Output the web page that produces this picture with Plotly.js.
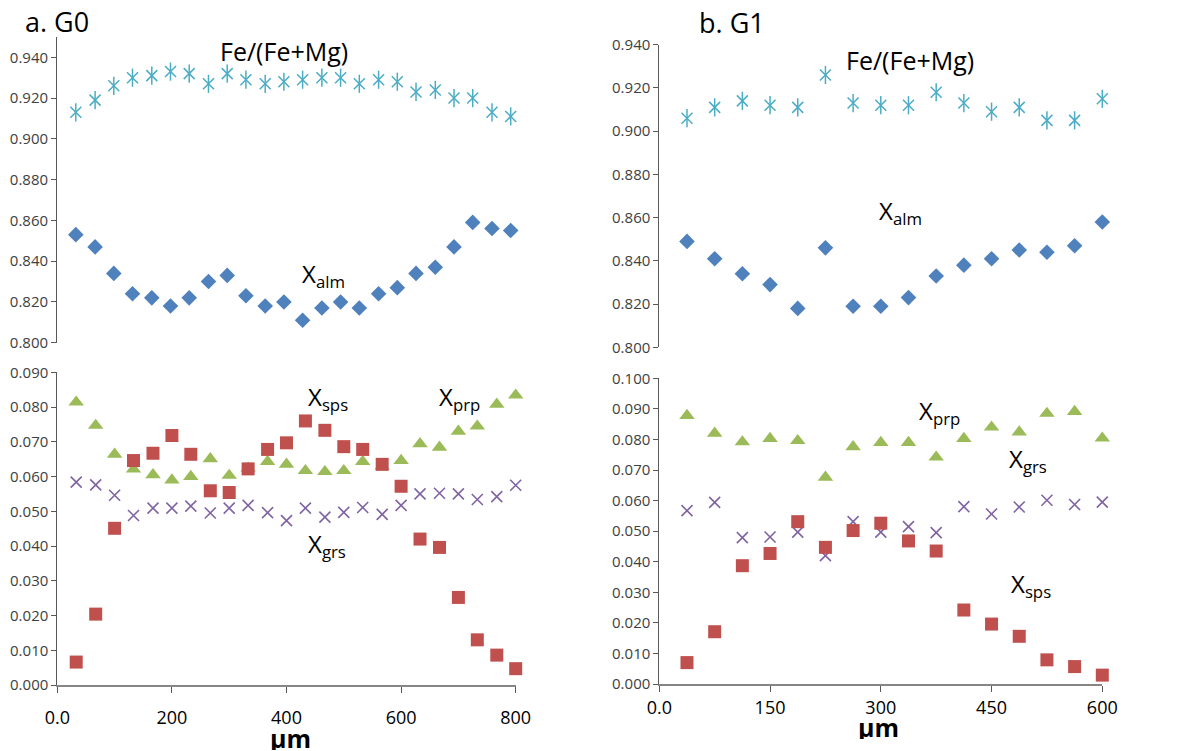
<!DOCTYPE html>
<html><head><meta charset="utf-8">
<script src="https://cdn.plot.ly/plotly-3.0.1.min.js"></script>
<style>html,body{margin:0;padding:0;background:#fff}#chart{width:1189px;height:751px}</style>
</head><body><div id="chart"></div>
<script>
// ---- G0 (left) ----
const g0Distance = [33, 67, 100, 133, 167, 200, 233, 267, 300, 333, 367, 400, 433, 467, 500, 533, 567, 600, 633, 667, 700, 733, 767, 800];
const g0FeMg = [0.913, 0.919, 0.926, 0.930, 0.931, 0.933, 0.932, 0.927, 0.932, 0.929, 0.927, 0.928, 0.929, 0.930, 0.930, 0.927, 0.929, 0.928, 0.923, 0.924, 0.920, 0.920, 0.913, 0.911];
const g0Alm = [0.853, 0.847, 0.834, 0.824, 0.822, 0.818, 0.822, 0.830, 0.833, 0.823, 0.818, 0.820, 0.811, 0.817, 0.820, 0.817, 0.824, 0.827, 0.834, 0.837, 0.847, 0.859, 0.856, 0.855];
const g0Sps = [0.0066, 0.0204, 0.0451, 0.0646, 0.0667, 0.0718, 0.0664, 0.0559, 0.0554, 0.0622, 0.0678, 0.0697, 0.0760, 0.0733, 0.0686, 0.0678, 0.0635, 0.0572, 0.0420, 0.0396, 0.0252, 0.0130, 0.0086, 0.0047];
const g0Prp = [0.0814, 0.0747, 0.0664, 0.0621, 0.0605, 0.0590, 0.0600, 0.0651, 0.0603, 0.0624, 0.0643, 0.0635, 0.0617, 0.0614, 0.0617, 0.0643, 0.0630, 0.0646, 0.0694, 0.0684, 0.0730, 0.0745, 0.0808, 0.0834];
const g0Grs = [0.0584, 0.0576, 0.0546, 0.0488, 0.0509, 0.0509, 0.0515, 0.0495, 0.0509, 0.0517, 0.0496, 0.0473, 0.0509, 0.0483, 0.0497, 0.0511, 0.0491, 0.0517, 0.0550, 0.0552, 0.0550, 0.0534, 0.0542, 0.0575];
// ---- G1 (right) ----
const g1Distance = [37.5, 75, 112.5, 150, 187.5, 225, 262.5, 300, 337.5, 375, 412.5, 450, 487.5, 525, 562.5, 600];
const g1FeMg = [0.906, 0.911, 0.914, 0.912, 0.911, 0.926, 0.913, 0.912, 0.912, 0.918, 0.913, 0.909, 0.911, 0.905, 0.905, 0.915];
const g1Alm = [0.849, 0.841, 0.834, 0.829, 0.818, 0.846, 0.819, 0.819, 0.823, 0.833, 0.838, 0.841, 0.845, 0.844, 0.847, 0.858];
const g1Prp = [0.0878, 0.0820, 0.0792, 0.0803, 0.0796, 0.0676, 0.0776, 0.0790, 0.0790, 0.0742, 0.0803, 0.0840, 0.0824, 0.0885, 0.0891, 0.0804];
const g1Grs = [0.0567, 0.0594, 0.0479, 0.0481, 0.0497, 0.0420, 0.0531, 0.0497, 0.0515, 0.0495, 0.0580, 0.0556, 0.0579, 0.0601, 0.0587, 0.0595];
const g1Sps = [0.0070, 0.0171, 0.0387, 0.0427, 0.0531, 0.0447, 0.0502, 0.0526, 0.0468, 0.0435, 0.0242, 0.0196, 0.0156, 0.0079, 0.0057, 0.0029];
// ---- tick labels ----
const g0XTicks = [0, 200, 400, 600, 800];
const g0XTickText = ['0.0', '200', '400', '600', '800'];
const g1XTicks = [0, 150, 300, 450, 600];
const g1XTickText = ['0.0', '150', '300', '450', '600'];
const topYTicks = [0.80, 0.82, 0.84, 0.86, 0.88, 0.90, 0.92, 0.94];
const g0LowYTicks = [0, 0.01, 0.02, 0.03, 0.04, 0.05, 0.06, 0.07, 0.08, 0.09];
const g1LowYTicks = [0, 0.01, 0.02, 0.03, 0.04, 0.05, 0.06, 0.07, 0.08, 0.09, 0.10];

const W = 1189, H = 751;
const fx = p => p / W;
const fy = p => 1 - p / H;
const FONT = 'Open Sans, sans-serif';

const C_STAR = '#4BACC6', C_ALM = '#4F81BD', C_SPS = '#C0504D', C_PRP = '#9BBB59', C_GRS = '#8064A2';

function star(x, y, xa, ya) {
  return [
    {x, y, xaxis: xa, yaxis: ya, type: 'scatter', mode: 'markers', cliponaxis: false,
     marker: {symbol: 'x-thin-open', size: 11, color: C_STAR, line: {color: C_STAR, width: 1.5}}},
    {x, y, xaxis: xa, yaxis: ya, type: 'scatter', mode: 'markers', cliponaxis: false,
     marker: {symbol: 'line-ns-open', size: 13, color: C_STAR, line: {color: C_STAR, width: 1.5}}}
  ];
}
function pts(x, y, xa, ya, symbol, color, size) {
  const m = {symbol, size, color};
  if (symbol.indexOf('thin') >= 0) m.line = {color, width: 1.6};
  else m.line = {width: 0};
  return {x, y, xaxis: xa, yaxis: ya, type: 'scatter', mode: 'markers', cliponaxis: false, marker: m};
}

const data = [
  ...star(g0Distance, g0FeMg, 'x', 'y'),
  pts(g0Distance, g0Alm, 'x', 'y', 'diamond', C_ALM, 12),
  pts(g0Distance, g0Grs, 'x2', 'y2', 'x-thin-open', C_GRS, 11),
  pts(g0Distance, g0Prp, 'x2', 'y2', 'triangle-up', C_PRP, 13.5),
  pts(g0Distance, g0Sps, 'x2', 'y2', 'square', C_SPS, 13),
  ...star(g1Distance, g1FeMg, 'x3', 'y3'),
  pts(g1Distance, g1Alm, 'x3', 'y3', 'diamond', C_ALM, 12),
  pts(g1Distance, g1Grs, 'x4', 'y4', 'x-thin-open', C_GRS, 11),
  pts(g1Distance, g1Prp, 'x4', 'y4', 'triangle-up', C_PRP, 13.5),
  pts(g1Distance, g1Sps, 'x4', 'y4', 'square', C_SPS, 13)
];

const yBase = {
  showgrid: false, zeroline: false, showline: true, linecolor: '#595959', linewidth: 1,
  ticks: 'outside', ticklen: 5, tickcolor: '#595959', tickmode: 'array',
  tickfont: {family: FONT, size: 15, color: '#404040'}, fixedrange: true
};
const xBase = {
  showgrid: false, zeroline: false, showline: true, linecolor: '#868686', linewidth: 1.5,
  ticks: 'outside', ticklen: 6, tickcolor: '#595959', tickmode: 'array',
  tickfont: {family: FONT, size: 18, color: '#000'}, fixedrange: true
};
const fmt = a => a.map(v => v.toFixed(3));

const ann = (text, px, py, size, xanchor, extra) => Object.assign({
  text, x: fx(px), y: fy(py), xref: 'paper', yref: 'paper', showarrow: false,
  xanchor: xanchor || 'left', yanchor: 'middle', font: {family: FONT, size: size || 24, color: '#000'}
}, extra || {});

const layout = {
  width: W, height: H, margin: {l: 0, r: 0, t: 0, b: 0},
  paper_bgcolor: '#fff', plot_bgcolor: 'rgba(0,0,0,0)', showlegend: false,
  font: {family: FONT},
  xaxis: Object.assign({}, xBase, {domain: [fx(57.1), fx(510.7)], range: [0, 800], anchor: 'y', visible: false}),
  yaxis: Object.assign({}, yBase, {domain: [fy(342.7), fy(36.9)], range: [0.8, 0.95], anchor: 'x',
    tickvals: topYTicks, ticktext: fmt(topYTicks)}),
  xaxis2: Object.assign({}, xBase, {domain: [fx(57.3), fx(515.7)], range: [0, 800], anchor: 'y2',
    tickvals: g0XTicks, ticktext: g0XTickText, ticklabelstandoff: 10}),
  yaxis2: Object.assign({}, yBase, {domain: [fy(685), fy(372.3)], range: [0, 0.09], anchor: 'x2',
    tickvals: g0LowYTicks, ticktext: fmt(g0LowYTicks)}),
  xaxis3: Object.assign({}, xBase, {domain: [fx(659.3), fx(1102.3)], range: [0, 600], anchor: 'y3', visible: false}),
  yaxis3: Object.assign({}, yBase, {domain: [fy(347.3), fy(44.7)], range: [0.8, 0.94], anchor: 'x3',
    tickvals: topYTicks, ticktext: fmt(topYTicks)}),
  xaxis4: Object.assign({}, xBase, {domain: [fx(659.3), fx(1102.3)], range: [0, 600], anchor: 'y4',
    tickvals: g1XTicks, ticktext: g1XTickText, ticklabelstandoff: 1}),
  yaxis4: Object.assign({}, yBase, {domain: [fy(684), fy(378.3)], range: [0, 0.1], anchor: 'x4',
    tickvals: g1LowYTicks, ticktext: fmt(g1LowYTicks)}),
  annotations: [
    ann('a. G0', 23, 21, 27),
    ann('b. G1', 697, 22, 27),
    ann('Fe/(Fe+Mg)', 284, 51, 25, 'center'),
    ann('Fe/(Fe+Mg)', 910, 60, 25, 'center'),
    ann('X<sub>alm</sub>', 300, 275, 24),
    ann('X<sub>alm</sub>', 877, 212, 24),
    ann('X<sub>sps</sub>', 306, 398, 24),
    ann('X<sub>prp</sub>', 437, 398, 24),
    ann('X<sub>grs</sub>', 306, 545, 24),
    ann('X<sub>prp</sub>', 917, 412, 24),
    ann('X<sub>grs</sub>', 1007, 460, 24),
    ann('X<sub>sps</sub>', 1009, 585, 24),
    ann('<b>μm</b>', 290, 738, 25, 'center', {height: 24, valign: 'middle'}),
    ann('<b>μm</b>', 878, 727, 25, 'center', {height: 24, valign: 'middle'})
  ]
};

Plotly.newPlot('chart', data, layout, {displayModeBar: false, staticPlot: true});
</script>
</body></html>
